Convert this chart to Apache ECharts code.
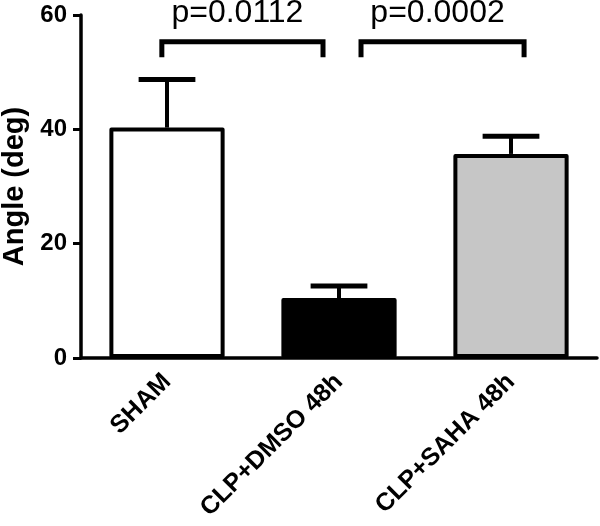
<!DOCTYPE html>
<html>
<head>
<meta charset="utf-8">
<script src="https://cdn.jsdelivr.net/npm/echarts@6/dist/echarts.min.js"></script>
<style>
	html, body { margin: 0; padding: 0; background: #fff; }
	#main { width: 600px; height: 526px; }
</style>
</head>
<body>
<div id="main"></div>
<script>
	// 数据
	var groups = ['SHAM', 'CLP+DMSO 48h', 'CLP+SAHA 48h'];
	var means = [40.3, 10.5, 35.7];
	var upper = [48.7, 12.6, 38.8];
	var barColors = ['#ffffff', '#000000', '#c6c6c6'];
	var yTicks = [0, 20, 40, 60];

	// 显著性标注: 起止组, 横线高度, 竖脚底部
	var pFrom = [0, 1];
	var pTo = [1, 2];
	var pLevel = [55.3, 55.3];
	var pLeg = [52.6, 52.6];
	var pText = ['p=0.0112', 'p=0.0002'];
	var pTextY = [60.3, 60.3];

	var FONT = '"Liberation Sans", Arial, sans-serif';

	var barData = [];
	for (var i = 0; i < groups.length; i++) {
		barData.push({
			value: means[i],
			itemStyle: { color: barColors[i] }
		});
	}

	var errData = [];
	for (var i = 0; i < groups.length; i++) {
		errData.push([i, means[i], upper[i]]);
	}

	var bracketData = [];
	for (var i = 0; i < pFrom.length; i++) {
		bracketData.push([pFrom[i], pTo[i], pLevel[i], pLeg[i], pTextY[i], i]);
	}
	// 横向偏移(占类目宽度比例)
	var bracketOffset = [[-0.03, -0.093], [0.128, 0.076]];

	var option = {
		animation: false,
		grid: { left: 81, right: 3, top: 15, bottom: 168, containLabel: false, outerBoundsMode: 'none' },
		xAxis: {
			type: 'category',
			data: groups,
			axisLine: { lineStyle: { color: '#000', width: 3.5 } },
			axisTick: { alignWithLabel: true, length: 10, lineStyle: { color: '#000', width: 3 } },
			axisLabel: {
				rotate: 45,
				margin: 20,
				color: '#000',
				fontWeight: 'bold',
				fontSize: 25,
				fontFamily: FONT
			}
		},
		yAxis: {
			type: 'value',
			min: 0,
			max: 60,
			interval: 20,
			name: 'Angle (deg)',
			nameLocation: 'middle',
			nameGap: 52,
			nameMoveOverlap: false,
			nameTextStyle: { color: '#000', fontWeight: 'bold', fontSize: 29, fontFamily: FONT },
			axisLine: { show: true, lineStyle: { color: '#000', width: 3.5 } },
			axisTick: { show: true, length: 8, lineStyle: { color: '#000', width: 3 } },
			splitLine: { show: false },
			axisLabel: {
				margin: 14,
				color: '#000',
				fontWeight: 'bold',
				fontSize: 24,
				fontFamily: FONT,
				formatter: function(v) {
					return yTicks.indexOf(v) >= 0 ? String(v) : '';
				}
			}
		},
		series: [{
			type: 'bar',
			data: barData,
			barWidth: '67%',
			itemStyle: { borderColor: '#000', borderWidth: 4, borderJoin: 'round' },
			z: 2
		}, {
			// 误差线
			type: 'custom',
			data: errData,
			z: 1,
			renderItem: function(params, api) {
				var top = api.coord([api.value(0), api.value(2)]);
				var base = api.coord([api.value(0), api.value(1)]);
				var half = api.size([1, 0])[0] * 0.165;
				return {
					type: 'group',
					children: [{
						type: 'line',
						shape: { x1: base[0], y1: base[1], x2: top[0], y2: top[1] },
						style: { stroke: '#000', lineWidth: 4 }
					}, {
						type: 'line',
						shape: { x1: top[0] - half, y1: top[1], x2: top[0] + half, y2: top[1] },
						style: { stroke: '#000', lineWidth: 5 }
					}]
				};
			}
		}, {
			// 显著性括号
			type: 'custom',
			data: bracketData,
			clip: false,
			z: 3,
			renderItem: function(params, api) {
				var k = api.value(5);
				var band = api.size([1, 0])[0];
				var a = api.coord([api.value(0), api.value(2)]);
				var b = api.coord([api.value(1), api.value(2)]);
				var legY = api.coord([0, api.value(3)])[1];
				var textY = api.coord([0, api.value(4)])[1];
				var x1 = a[0] + band * bracketOffset[k][0];
				var x2 = b[0] + band * bracketOffset[k][1];
				return {
					type: 'group',
					children: [{
						type: 'polyline',
						shape: { points: [[x1, legY], [x1, a[1]], [x2, a[1]], [x2, legY]] },
						style: { stroke: '#000', lineWidth: 5, fill: null, lineJoin: 'miter' }
					}, {
						type: 'text',
						x: (x1 + x2) / 2 - 5,
						y: textY,
						style: {
							text: pText[k],
							fill: '#000',
							fontSize: 32,
							fontFamily: FONT,
							align: 'center',
							verticalAlign: 'middle'
						}
					}]
				};
			}
		}]
	};

	echarts.init(document.getElementById('main')).setOption(option);
</script>
</body>
</html>
